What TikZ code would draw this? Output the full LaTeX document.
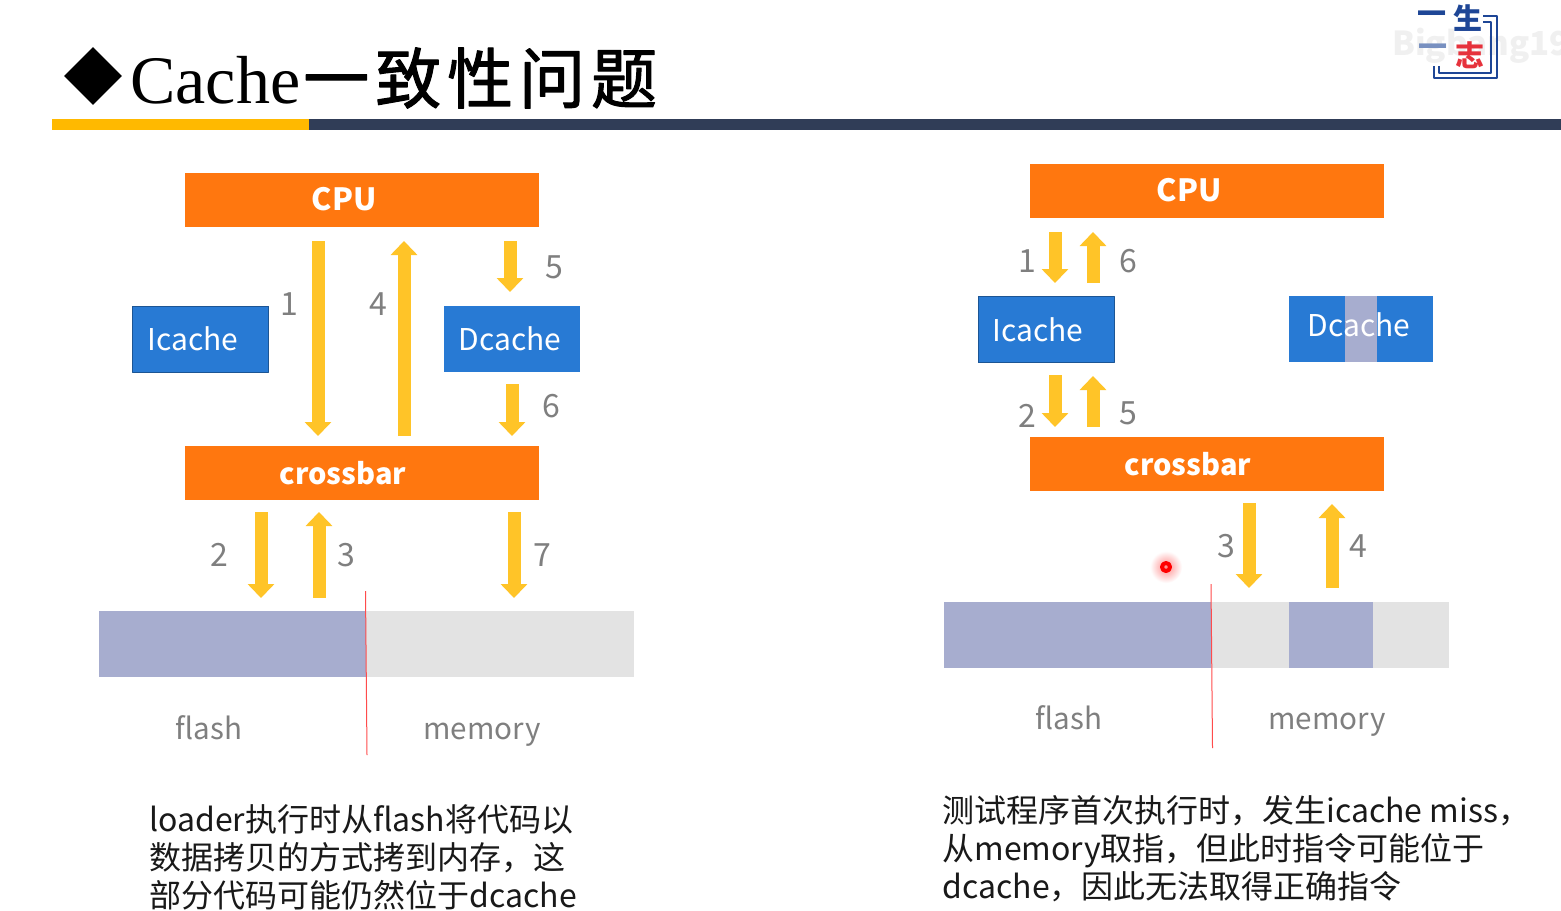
\documentclass[tikz,border=0pt]{standalone}
\usepackage{fontspec}
\setmainfont{Noto Sans CJK SC}
\newfontfamily\latinserif{Liberation Serif}
\newfontfamily\titlecjk[FakeBold=1.6,LetterSpace=9]{Noto Sans CJK SC}
\usetikzlibrary{arrows.meta,shapes.geometric,shadings}
\definecolor{barOrange}{RGB}{255,119,15}
\definecolor{boxBlue}{RGB}{40,122,212}
\definecolor{flowYellow}{RGB}{255,196,40}
\definecolor{numGray}{RGB}{127,127,127}
\definecolor{memBlue}{RGB}{167,173,207}
\definecolor{memGray}{RGB}{227,227,227}
\definecolor{ruleYellow}{RGB}{255,185,0}
\definecolor{ruleDark}{RGB}{48,61,87}
\definecolor{logoBlue}{RGB}{30,70,150}
\definecolor{logoRed}{RGB}{230,50,60}
\tikzset{
  orangebar/.style={fill=barOrange, inner sep=0pt, minimum width=177pt, minimum height=27pt},
  bluebox/.style={fill=boxBlue, inner sep=0pt, minimum width=68pt, minimum height=33pt},
  cputext/.style={inner sep=0pt, text=white, font=\fontsize{15.3}{19}\selectfont\bfseries},
  crosstext/.style={inner sep=0pt, text=white, font=\fontsize{14.5}{19}\selectfont\bfseries},
  cachetext/.style={inner sep=0pt, text=white, font=\fontsize{15}{19}\selectfont},
  flowarrow/.style={draw=flowYellow, line width=6.5pt, -{Triangle[width=13pt,length=7pt]}},
  numlabel/.style={text=numGray, inner sep=0pt, font=\fontsize{16}{19}\selectfont},
  memlabel/.style={anchor=base, text=numGray, inner sep=0pt, font=\fontsize{14.8}{19}\selectfont},
  bodytext/.style={anchor=west, align=left, inner sep=0pt, text=black!90, font=\fontsize{16}{19}\selectfont},
  logotext/.style={inner sep=0pt, font=\fontsize{14.5}{15}\selectfont\bfseries},
  splitline/.style={draw=red!70, line width=0.5pt}
}
\begin{document}
\begin{tikzpicture}[x=0.5pt, y=-0.5pt, line join=round]
\useasboundingbox (0,0) rectangle (1561,910);
\fill[white] (0,0) rectangle (1561,910);
\node[diamond, fill=black, inner sep=0pt, minimum width=29pt, minimum height=29pt] (titleMark) at (93,76) {};
\node[anchor=west, inner sep=0pt, font=\fontsize{33}{35}\selectfont] (title) at (130,78) {{\latinserif\fontsize{34}{35}\selectfont Cache}\hspace{1.5pt}\titlecjk 一致性问题};
\fill[ruleYellow] (52,119) rectangle (309,130);
\fill[ruleDark] (309,119) rectangle (1561,130);
\node[inner sep=0pt, text=black!6, anchor=west, font=\fontsize{16.5}{18}\selectfont\bfseries] (mark) at (1392,46) {Bigbang19};
\node[logotext, text=logoBlue] (logoA) at (1432,18) {一};
\node[logotext, text=logoBlue] (logoB) at (1468,18) {生};
\node[logotext, text=logoBlue!60] (logoC) at (1433,51) {一};
\node[logotext, text=logoRed] (logoD) at (1470,55) {志};
\draw[logoBlue, line width=1.2pt] (1483,16) -- (1497,16) -- (1497,78) -- (1434,78) -- (1434,66);
\draw[logoBlue, line width=0.6pt] (1483,22) -- (1491,22) -- (1491,73) -- (1439,73) -- (1439,66);

\node[orangebar] (cpuL) at (362,200) {};
\node[cputext] (cpuLtext) at (344,199) {CPU};
\node[bluebox, draw=boxBlue!70!black, line width=0.3pt] (icacheL) at (200.5,339) {};
\node[cachetext] (icacheLtext) at (193,339) {Icache};
\node[bluebox] (dcacheL) at (512,338.5) {};
\node[cachetext] (dcacheLtext) at (510,339) {Dcache};
\node[orangebar] (crossbarL) at (362,473) {};
\node[crosstext] (crossbarLtext) at (343,473) {crossbar};

\coordinate (l1a) at (318,241);
\coordinate (l1b) at (318,436);
\coordinate (l4a) at (404,436);
\coordinate (l4b) at (404,241);
\coordinate (l5a) at (510,241);
\coordinate (l5b) at (510,292);
\coordinate (l6a) at (512,384);
\coordinate (l6b) at (512,436);
\coordinate (l2a) at (261,512);
\coordinate (l2b) at (261,598);
\coordinate (l3a) at (319,598);
\coordinate (l3b) at (319,512);
\coordinate (l7a) at (514,512);
\coordinate (l7b) at (514,598);
\draw[flowarrow] (l1a) -- (l1b);
\draw[flowarrow] (l4a) -- (l4b);
\draw[flowarrow] (l5a) -- (l5b);
\draw[flowarrow] (l6a) -- (l6b);
\draw[flowarrow] (l2a) -- (l2b);
\draw[flowarrow] (l3a) -- (l3b);
\draw[flowarrow] (l7a) -- (l7b);
\node[numlabel] (n1L) at (289,304) {1};
\node[numlabel] (n4L) at (378,304) {4};
\node[numlabel] (n5L) at (554,267) {5};
\node[numlabel] (n6L) at (551,406) {6};
\node[numlabel] (n2L) at (219,555) {2};
\node[numlabel] (n3L) at (346,555) {3};
\node[numlabel] (n7L) at (542,555) {7};

\fill[memBlue] (99,611) rectangle (366,677);
\fill[memGray] (366,611) rectangle (634,677);
\draw[splitline] (365.5,591) -- (367,755);
\node[memlabel] (flashL) at (209,739) {flash};
\node[memlabel] (memoryL) at (482,739) {memory};
\node[bodytext] (noteL) at (149,857) {loader执行时从flash将代码以\\数据拷贝的方式拷到内存，这\\部分代码可能仍然位于dcache};

\node[orangebar] (cpuR) at (1207,191) {};
\node[cputext] (cpuRtext) at (1189,190) {CPU};
\node[bluebox, draw=boxBlue!70!black, line width=0.3pt] (icacheR) at (1046,329.5) {};
\node[cachetext] (icacheRtext) at (1038,330) {Icache};
\node[bluebox, minimum width=72pt] (dcacheR) at (1361,328.5) {};
\fill[memBlue] (1345,296) rectangle (1377,361.5);
\node[cachetext] (dcacheRtext) at (1359,325) {Dcache};
\node[orangebar] (crossbarR) at (1207,463.5) {};
\node[crosstext] (crossbarRtext) at (1188,464) {crossbar};

\coordinate (r1a) at (1055,232);
\coordinate (r1b) at (1055,283);
\coordinate (r6a) at (1093,283);
\coordinate (r6b) at (1093,232);
\coordinate (r2a) at (1055,375);
\coordinate (r2b) at (1055,427);
\coordinate (r5a) at (1093,427);
\coordinate (r5b) at (1093,376);
\coordinate (r3a) at (1249,503);
\coordinate (r3b) at (1249,588);
\coordinate (r4a) at (1332,588);
\coordinate (r4b) at (1332,504);
\draw[flowarrow] (r1a) -- (r1b);
\draw[flowarrow] (r6a) -- (r6b);
\draw[flowarrow] (r2a) -- (r2b);
\draw[flowarrow] (r5a) -- (r5b);
\draw[flowarrow] (r3a) -- (r3b);
\draw[flowarrow] (r4a) -- (r4b);
\node[numlabel] (n1R) at (1027,261) {1};
\node[numlabel] (n6R) at (1128,261) {6};
\node[numlabel] (n2R) at (1027,416) {2};
\node[numlabel] (n5R) at (1128,413) {5};
\node[numlabel] (n3R) at (1226,546) {3};
\node[numlabel] (n4R) at (1358,546) {4};

\fill[memBlue] (944,602) rectangle (1211,668);
\fill[memGray] (1211,602) rectangle (1289,668);
\fill[memBlue] (1289,602) rectangle (1373,668);
\fill[memGray] (1373,602) rectangle (1449,668);
\draw[splitline] (1211,584) -- (1212.5,748);
\node[memlabel] (flashR) at (1069,729) {flash};
\node[memlabel] (memoryR) at (1327,729) {memory};
\node[bodytext] (noteR) at (942,849) {测试程序首次执行时，发生icache miss，\\从memory取指，但此时指令可能位于\\dcache，因此无法取得正确指令};

\shade[inner color=red!45, outer color=white] (1166,567) circle (8pt);
\draw[red, line width=2pt] (1166,567) circle (2pt);
\end{tikzpicture}
\end{document}
